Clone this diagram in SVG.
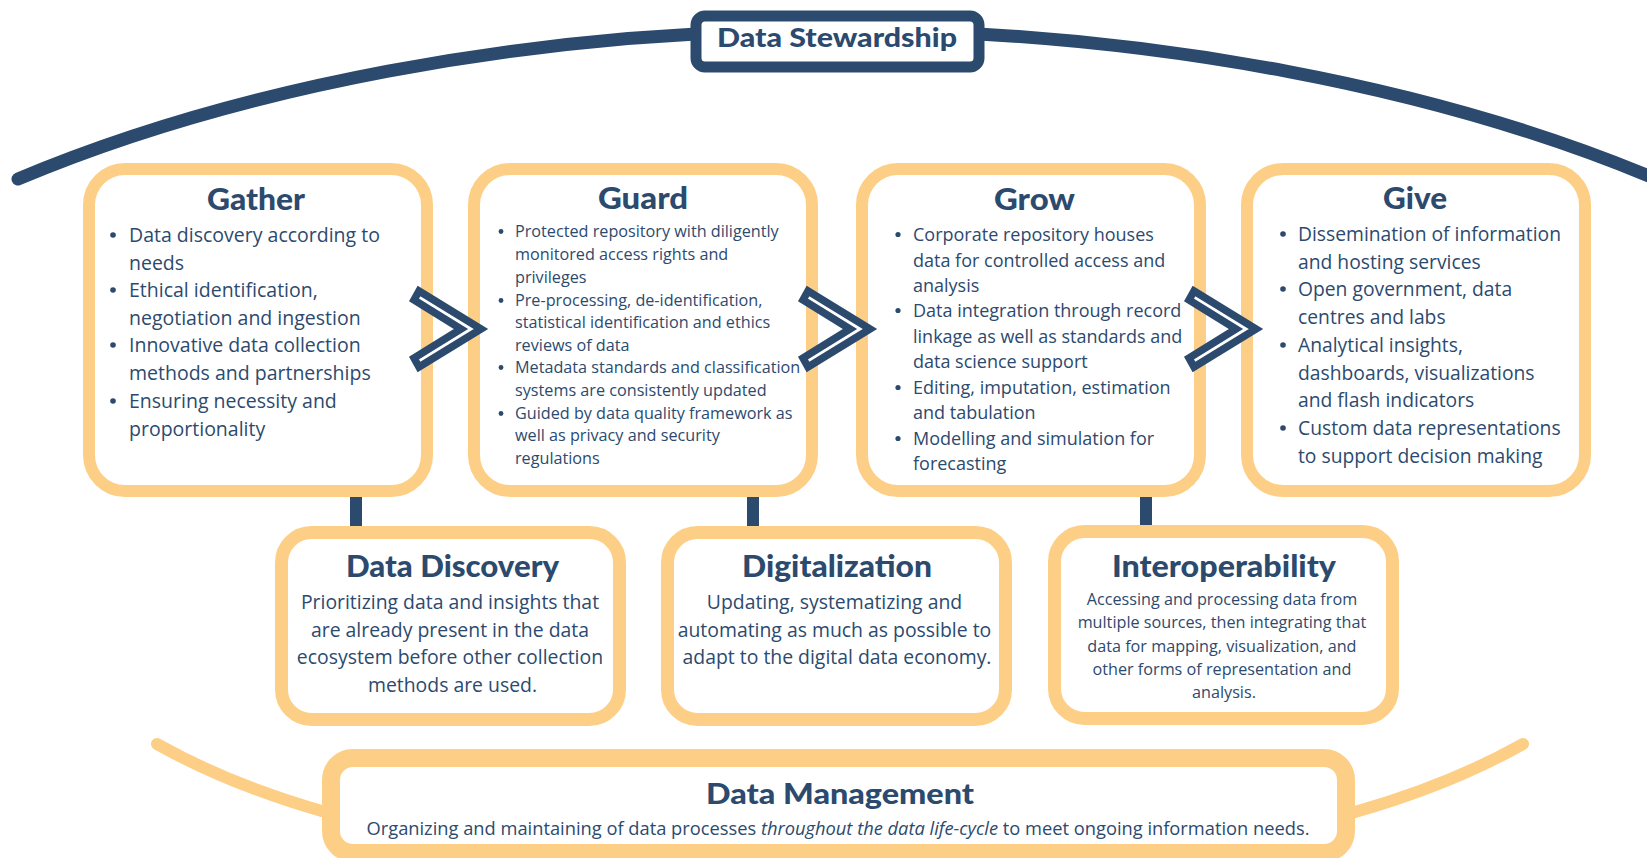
<svg xmlns="http://www.w3.org/2000/svg" width="1647" height="858" viewBox="0 0 1647 858">
<defs>
<style>
.arc{fill:none;stroke:#2c4a6e;stroke-width:13;stroke-linecap:round}
.arcy{fill:none;stroke:#fdcf86;stroke-width:12;stroke-linecap:round}
.bar{fill:#2c4a6e}
.box{fill:#fff;stroke:#fdcf86;stroke-width:12}
.bbox{fill:#fff;stroke:#fdcf86;stroke-width:13}
.chev{fill:#fff;stroke:#2c4a6e;stroke-width:7.5;stroke-linejoin:miter}
.t{font-family:Lato,"Liberation Sans",sans-serif;font-weight:900;fill:#2c4a6e;text-anchor:middle}
.b{font-family:"Open Sans","Liberation Sans",sans-serif;fill:#2c4a6e}
.c{font-family:"Open Sans","Liberation Sans",sans-serif;fill:#2c4a6e;text-anchor:middle}
.dot{fill:#2c4a6e}
</style>
</defs>
<g id="connectors">
<path class="arc" d="M18,179 C230,90 520,30 837,30 C1154,30 1444,90 1656,179"/>
<path class="arcy" d="M157,744 Q230,785 325,812"/>
<path class="arcy" d="M1523,744 Q1450,785 1355,812"/>
<rect class="bar" x="350" y="488" width="12" height="44"/>
<rect class="bar" x="747" y="488" width="12" height="44"/>
<rect class="bar" x="1140" y="488" width="12" height="44"/>
</g>
<g id="stewardship">
<rect x="696" y="16" width="283" height="51" rx="9" fill="#fff" stroke="#2c4a6e" stroke-width="11"/>
<text class="t" x="837" y="47" font-size="27" textLength="240" lengthAdjust="spacingAndGlyphs">Data Stewardship</text>
</g>
<g id="gather">
<rect class="box" x="89" y="169" width="338" height="322" rx="36"/>
<text class="t" x="256" y="210" font-size="31" textLength="98" lengthAdjust="spacingAndGlyphs">Gather</text>
<g class="dot"><circle cx="113" cy="235" r="2.8"/><circle cx="113" cy="290" r="2.8"/><circle cx="113" cy="345" r="2.8"/><circle cx="113" cy="401" r="2.8"/></g>
<text class="b" font-size="19.5">
<tspan x="129" y="242">Data discovery according to</tspan>
<tspan x="129" y="269.5">needs</tspan>
<tspan x="129" y="297">Ethical identification,</tspan>
<tspan x="129" y="324.5">negotiation and ingestion</tspan>
<tspan x="129" y="352">Innovative data collection</tspan>
<tspan x="129" y="380">methods and partnerships</tspan>
<tspan x="129" y="408">Ensuring necessity and</tspan>
<tspan x="129" y="436">proportionality</tspan>
</text>
</g>
<g id="guard">
<rect class="box" x="474" y="169" width="338" height="322" rx="36"/>
<text class="t" x="643" y="209" font-size="31" textLength="90" lengthAdjust="spacingAndGlyphs">Guard</text>
<g class="dot"><circle cx="501" cy="231.5" r="2.4"/><circle cx="501" cy="300.5" r="2.4"/><circle cx="501" cy="367.5" r="2.4"/><circle cx="501" cy="413.5" r="2.4"/></g>
<text class="b" font-size="16.2">
<tspan x="515" y="237">Protected repository with diligently</tspan>
<tspan x="515" y="260">monitored access rights and</tspan>
<tspan x="515" y="283">privileges</tspan>
<tspan x="515" y="306">Pre-processing, de-identification,</tspan>
<tspan x="515" y="328">statistical identification and ethics</tspan>
<tspan x="515" y="351">reviews of data</tspan>
<tspan x="515" y="373">Metadata standards and classification</tspan>
<tspan x="515" y="396">systems are consistently updated</tspan>
<tspan x="515" y="419">Guided by data quality framework as</tspan>
<tspan x="515" y="441">well as privacy and security</tspan>
<tspan x="515" y="464">regulations</tspan>
</text>
</g>
<g id="grow">
<rect class="box" x="862" y="169" width="338" height="322" rx="36"/>
<text class="t" x="1034.5" y="210" font-size="31" textLength="81" lengthAdjust="spacingAndGlyphs">Grow</text>
<g class="dot"><circle cx="898" cy="234.5" r="2.6"/><circle cx="898" cy="310.5" r="2.6"/><circle cx="898" cy="387.5" r="2.6"/><circle cx="898" cy="438.5" r="2.6"/></g>
<text class="b" font-size="18">
<tspan x="913" y="241">Corporate repository houses</tspan>
<tspan x="913" y="266.5">data for controlled access and</tspan>
<tspan x="913" y="292">analysis</tspan>
<tspan x="913" y="317">Data integration through record</tspan>
<tspan x="913" y="343">linkage as well as standards and</tspan>
<tspan x="913" y="368">data science support</tspan>
<tspan x="913" y="394">Editing, imputation, estimation</tspan>
<tspan x="913" y="419">and tabulation</tspan>
<tspan x="913" y="445">Modelling and simulation for</tspan>
<tspan x="913" y="470">forecasting</tspan>
</text>
</g>
<g id="give">
<rect class="box" x="1247" y="169" width="338" height="322" rx="36"/>
<text class="t" x="1415" y="209" font-size="31" textLength="64" lengthAdjust="spacingAndGlyphs">Give</text>
<g class="dot"><circle cx="1283" cy="234" r="2.8"/><circle cx="1283" cy="289" r="2.8"/><circle cx="1283" cy="345" r="2.8"/><circle cx="1283" cy="428" r="2.8"/></g>
<text class="b" font-size="19.3">
<tspan x="1298" y="241">Dissemination of information</tspan>
<tspan x="1298" y="268.5">and hosting services</tspan>
<tspan x="1298" y="296">Open government, data</tspan>
<tspan x="1298" y="324">centres and labs</tspan>
<tspan x="1298" y="352">Analytical insights,</tspan>
<tspan x="1298" y="379.5">dashboards, visualizations</tspan>
<tspan x="1298" y="407">and flash indicators</tspan>
<tspan x="1298" y="435">Custom data representations</tspan>
<tspan x="1298" y="463">to support decision making</tspan>
</text>
</g>
<g id="chevrons">
<polygon class="chev" points="419,291 481,329 419,367 414,358 461,329 414,300"/>
<polygon class="chev" transform="translate(389,0)" points="419,291 481,329 419,367 414,358 461,329 414,300"/>
<polygon class="chev" transform="translate(775,0)" points="419,291 481,329 419,367 414,358 461,329 414,300"/>
</g>
<g id="data-discovery">
<rect class="bbox" x="281.5" y="532.5" width="338" height="187" rx="30"/>
<text class="t" x="452.5" y="577" font-size="30" textLength="213" lengthAdjust="spacingAndGlyphs">Data Discovery</text>
<text class="c" font-size="19.4">
<tspan x="452.5" y="609">Prioritizing data and insights that</tspan>
<tspan x="452.5" y="636.5">are already present in the data</tspan>
<tspan x="452.5" y="664">ecosystem before other collection</tspan>
<tspan x="452.5" y="691.5">methods are used.</tspan>
</text>
</g>
<g id="digitalization">
<rect class="bbox" x="667.5" y="532.5" width="338" height="187" rx="30"/>
<text class="t" x="837" y="577" font-size="30" textLength="190" lengthAdjust="spacingAndGlyphs">Digitalization</text>
<text class="c" font-size="19.4">
<tspan x="837" y="609">Updating, systematizing and</tspan>
<tspan x="837" y="636.5">automating as much as possible to</tspan>
<tspan x="837" y="664">adapt to the digital data economy.</tspan>
</text>
</g>
<g id="interoperability">
<rect class="bbox" x="1054.5" y="531.5" width="338" height="187" rx="30"/>
<text class="t" x="1224" y="577" font-size="30" textLength="224" lengthAdjust="spacingAndGlyphs">Interoperability</text>
<text class="c" font-size="16.2">
<tspan x="1224" y="605">Accessing and processing data from</tspan>
<tspan x="1224" y="628">multiple sources, then integrating that</tspan>
<tspan x="1224" y="652">data for mapping, visualization, and</tspan>
<tspan x="1224" y="675">other forms of representation and</tspan>
<tspan x="1224" y="698">analysis.</tspan>
</text>
</g>
<g id="data-management">
<rect x="331" y="758" width="1015" height="95" rx="22" fill="#fff" stroke="#fdcf86" stroke-width="18"/>
<text class="t" x="840" y="804" font-size="28" textLength="268" lengthAdjust="spacingAndGlyphs">Data Management</text>
<text class="c" x="838" y="835" font-size="18.3">Organizing and maintaining of data processes <tspan font-style="italic">throughout the data life-cycle</tspan> to meet ongoing information needs.</text>
</g>
</svg>
